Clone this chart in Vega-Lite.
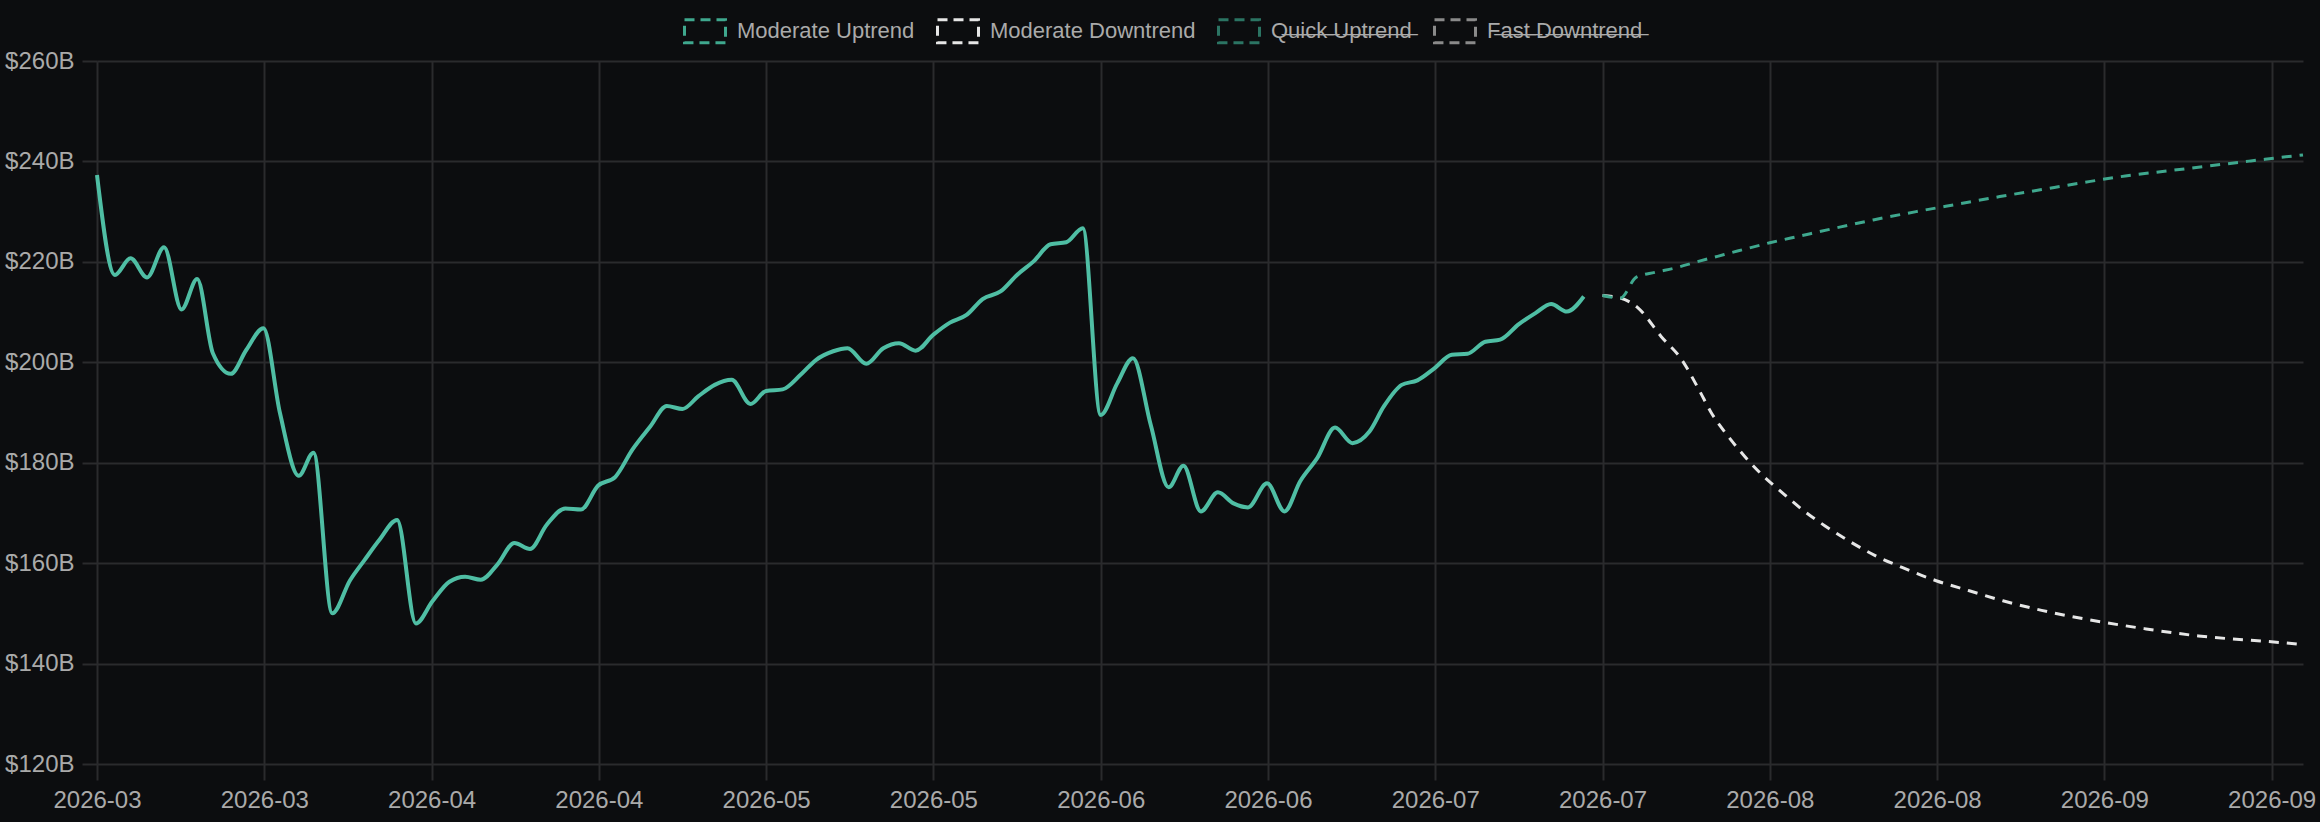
{
  "$schema": "https://vega.github.io/schema/vega-lite/v6.json",
  "description": "Market cap history with moderate up/down trend projections.",
  "autosize": {"type": "none"},
  "padding": {"left": 97, "top": 61, "right": 17, "bottom": 58},
  "width": 2206,
  "height": 703,
  "background": "#0c0d0f",
  "config": {
    "view": {"stroke": null},
    "font": "Liberation Sans, Helvetica, Arial, sans-serif",
    "axis": {
      "labelColor": "#aaaaaa",
      "labelFontSize": 24,
      "labelFont": "Liberation Sans, Helvetica, Arial, sans-serif",
      "gridColor": "#2a2b2d",
      "gridWidth": 2,
      "tickColor": "#2a2b2d",
      "tickWidth": 2,
      "domain": false,
      "title": null
    }
  },
  "layer": [
    {
      "data": {
        "values": [
          {"date": "2026-03-01T00:00", "value": 237.3},
          {"date": "2026-03-02T17:00", "value": 217.4},
          {"date": "2026-03-04T05:00", "value": 220.7},
          {"date": "2026-03-05T19:00", "value": 216.9},
          {"date": "2026-03-07T10:00", "value": 222.9},
          {"date": "2026-03-09T02:00", "value": 210.5},
          {"date": "2026-03-10T14:00", "value": 216.6},
          {"date": "2026-03-12T02:00", "value": 201.8},
          {"date": "2026-03-13T19:00", "value": 197.7},
          {"date": "2026-03-15T07:00", "value": 202.5},
          {"date": "2026-03-16T22:00", "value": 206.8},
          {"date": "2026-03-18T12:00", "value": 189.9},
          {"date": "2026-03-20T07:00", "value": 177.4},
          {"date": "2026-03-21T17:00", "value": 182.0},
          {"date": "2026-03-23T12:00", "value": 150.0},
          {"date": "2026-03-25T05:00", "value": 156.6},
          {"date": "2026-03-26T14:00", "value": 160.6},
          {"date": "2026-03-28T00:00", "value": 164.6},
          {"date": "2026-03-29T17:00", "value": 168.6},
          {"date": "2026-03-31T12:00", "value": 148.0},
          {"date": "2026-04-02T02:00", "value": 152.4},
          {"date": "2026-04-03T17:00", "value": 156.3},
          {"date": "2026-04-05T05:00", "value": 157.3},
          {"date": "2026-04-06T17:00", "value": 156.7},
          {"date": "2026-04-08T07:00", "value": 159.7},
          {"date": "2026-04-09T22:00", "value": 164.0},
          {"date": "2026-04-11T10:00", "value": 162.8},
          {"date": "2026-04-13T00:00", "value": 167.6},
          {"date": "2026-04-14T19:00", "value": 170.9},
          {"date": "2026-04-16T07:00", "value": 170.7},
          {"date": "2026-04-17T22:00", "value": 175.4},
          {"date": "2026-04-19T14:00", "value": 177.2},
          {"date": "2026-04-21T05:00", "value": 182.6},
          {"date": "2026-04-22T22:00", "value": 187.2},
          {"date": "2026-04-24T12:00", "value": 191.3},
          {"date": "2026-04-26T00:00", "value": 190.7},
          {"date": "2026-04-27T12:00", "value": 193.2},
          {"date": "2026-04-29T02:00", "value": 195.5},
          {"date": "2026-04-30T17:00", "value": 196.5},
          {"date": "2026-05-02T12:00", "value": 191.7},
          {"date": "2026-05-04T00:00", "value": 194.3},
          {"date": "2026-05-05T14:00", "value": 194.6},
          {"date": "2026-05-07T07:00", "value": 197.5},
          {"date": "2026-05-08T19:00", "value": 200.5},
          {"date": "2026-05-10T10:00", "value": 202.2},
          {"date": "2026-05-11T19:00", "value": 202.8},
          {"date": "2026-05-13T14:00", "value": 199.7},
          {"date": "2026-05-15T05:00", "value": 202.8},
          {"date": "2026-05-16T17:00", "value": 203.8},
          {"date": "2026-05-18T07:00", "value": 202.3},
          {"date": "2026-05-20T00:00", "value": 205.5},
          {"date": "2026-05-21T14:00", "value": 207.9},
          {"date": "2026-05-23T05:00", "value": 209.5},
          {"date": "2026-05-24T17:00", "value": 212.6},
          {"date": "2026-05-26T10:00", "value": 214.1},
          {"date": "2026-05-28T00:00", "value": 217.4},
          {"date": "2026-05-29T14:00", "value": 220.1},
          {"date": "2026-05-31T05:00", "value": 223.5},
          {"date": "2026-06-01T17:00", "value": 223.9},
          {"date": "2026-06-03T07:00", "value": 226.7},
          {"date": "2026-06-05T00:00", "value": 189.5},
          {"date": "2026-06-06T14:00", "value": 195.8},
          {"date": "2026-06-08T02:00", "value": 200.8},
          {"date": "2026-06-09T19:00", "value": 187.5},
          {"date": "2026-06-11T12:00", "value": 175.1},
          {"date": "2026-06-12T22:00", "value": 179.4},
          {"date": "2026-06-14T14:00", "value": 170.3},
          {"date": "2026-06-16T05:00", "value": 174.1},
          {"date": "2026-06-17T17:00", "value": 171.9},
          {"date": "2026-06-19T02:00", "value": 171.1},
          {"date": "2026-06-20T22:00", "value": 175.9},
          {"date": "2026-06-22T14:00", "value": 170.3},
          {"date": "2026-06-24T02:00", "value": 176.3},
          {"date": "2026-06-25T17:00", "value": 180.9},
          {"date": "2026-06-27T10:00", "value": 187.0},
          {"date": "2026-06-29T02:00", "value": 183.9},
          {"date": "2026-06-30T17:00", "value": 186.2},
          {"date": "2026-07-02T02:00", "value": 191.2},
          {"date": "2026-07-03T19:00", "value": 195.5},
          {"date": "2026-07-05T07:00", "value": 196.4},
          {"date": "2026-07-06T22:00", "value": 198.8},
          {"date": "2026-07-08T14:00", "value": 201.5},
          {"date": "2026-07-10T02:00", "value": 201.7},
          {"date": "2026-07-11T19:00", "value": 204.1},
          {"date": "2026-07-13T05:00", "value": 204.5},
          {"date": "2026-07-15T00:00", "value": 207.6},
          {"date": "2026-07-16T14:00", "value": 209.8},
          {"date": "2026-07-18T02:00", "value": 211.6},
          {"date": "2026-07-19T14:00", "value": 210.1},
          {"date": "2026-07-21T05:00", "value": 213.1}
        ]
      },
      "mark": {"type": "line", "color": "#4fbea4", "strokeWidth": 4, "interpolate": "monotone"},
      "encoding": {
        "x": {
          "field": "date",
          "type": "temporal",
          "scale": {"domain": [{"year": 2026, "month": 3, "date": 1}, {"year": 2026, "month": 9, "date": 28}], "nice": false},
          "axis": {
            "format": "%Y-%m",
            "values": [
              {"year": 2026, "month": 3, "date": 1},
              {"year": 2026, "month": 3, "date": 17},
              {"year": 2026, "month": 4, "date": 2},
              {"year": 2026, "month": 4, "date": 18},
              {"year": 2026, "month": 5, "date": 4},
              {"year": 2026, "month": 5, "date": 20},
              {"year": 2026, "month": 6, "date": 5},
              {"year": 2026, "month": 6, "date": 21},
              {"year": 2026, "month": 7, "date": 7},
              {"year": 2026, "month": 7, "date": 23},
              {"year": 2026, "month": 8, "date": 8},
              {"year": 2026, "month": 8, "date": 24},
              {"year": 2026, "month": 9, "date": 9},
              {"year": 2026, "month": 9, "date": 25}
            ],
            "tickSize": 16,
            "labelPadding": 8,
            "labelFlush": false,
            "labelOverlap": false
          }
        },
        "y": {
          "field": "value",
          "type": "quantitative",
          "scale": {"domain": [120, 260], "nice": false, "zero": false},
          "axis": {
            "values": [120, 140, 160, 180, 200, 220, 240, 260],
            "labelExpr": "'$' + datum.value + 'B'",
            "tickSize": 15,
            "labelPadding": 8
          }
        }
      }
    },
    {
      "data": {
        "values": [
          {"series": "Moderate Downtrend", "date": "2026-07-23T00:00", "value": 213.3},
          {"series": "Moderate Downtrend", "date": "2026-07-24T17:00", "value": 212.8},
          {"series": "Moderate Downtrend", "date": "2026-07-26T10:00", "value": 210.8},
          {"series": "Moderate Downtrend", "date": "2026-07-28T14:00", "value": 205.2},
          {"series": "Moderate Downtrend", "date": "2026-07-30T14:00", "value": 200.5},
          {"series": "Moderate Downtrend", "date": "2026-08-01T05:00", "value": 194.6},
          {"series": "Moderate Downtrend", "date": "2026-08-02T10:00", "value": 189.9},
          {"series": "Moderate Downtrend", "date": "2026-08-04T00:00", "value": 185.3},
          {"series": "Moderate Downtrend", "date": "2026-08-05T14:00", "value": 181.3},
          {"series": "Moderate Downtrend", "date": "2026-08-07T05:00", "value": 177.7},
          {"series": "Moderate Downtrend", "date": "2026-08-09T05:00", "value": 174.0},
          {"series": "Moderate Downtrend", "date": "2026-08-11T02:00", "value": 170.7},
          {"series": "Moderate Downtrend", "date": "2026-08-13T07:00", "value": 167.4},
          {"series": "Moderate Downtrend", "date": "2026-08-15T14:00", "value": 164.4},
          {"series": "Moderate Downtrend", "date": "2026-08-18T02:00", "value": 161.5},
          {"series": "Moderate Downtrend", "date": "2026-08-20T17:00", "value": 159.1},
          {"series": "Moderate Downtrend", "date": "2026-08-23T22:00", "value": 156.5},
          {"series": "Moderate Downtrend", "date": "2026-08-27T02:00", "value": 154.5},
          {"series": "Moderate Downtrend", "date": "2026-08-30T07:00", "value": 152.5},
          {"series": "Moderate Downtrend", "date": "2026-09-03T00:00", "value": 150.6},
          {"series": "Moderate Downtrend", "date": "2026-09-08T17:00", "value": 148.3},
          {"series": "Moderate Downtrend", "date": "2026-09-13T00:00", "value": 146.9},
          {"series": "Moderate Downtrend", "date": "2026-09-18T00:00", "value": 145.5},
          {"series": "Moderate Downtrend", "date": "2026-09-24T14:00", "value": 144.4},
          {"series": "Moderate Downtrend", "date": "2026-09-28T00:00", "value": 143.8},
          {"series": "Moderate Uptrend", "date": "2026-07-23T00:00", "value": 213.3},
          {"series": "Moderate Uptrend", "date": "2026-07-24T17:00", "value": 212.8},
          {"series": "Moderate Uptrend", "date": "2026-07-26T05:00", "value": 216.9},
          {"series": "Moderate Uptrend", "date": "2026-07-28T00:00", "value": 217.9},
          {"series": "Moderate Uptrend", "date": "2026-07-30T00:00", "value": 218.8},
          {"series": "Moderate Uptrend", "date": "2026-08-01T00:00", "value": 220.0},
          {"series": "Moderate Uptrend", "date": "2026-08-03T00:00", "value": 221.1},
          {"series": "Moderate Uptrend", "date": "2026-08-05T00:00", "value": 222.2},
          {"series": "Moderate Uptrend", "date": "2026-08-08T00:00", "value": 223.8},
          {"series": "Moderate Uptrend", "date": "2026-08-11T00:00", "value": 225.2},
          {"series": "Moderate Uptrend", "date": "2026-08-14T00:00", "value": 226.6},
          {"series": "Moderate Uptrend", "date": "2026-08-18T00:00", "value": 228.4},
          {"series": "Moderate Uptrend", "date": "2026-08-22T00:00", "value": 230.0},
          {"series": "Moderate Uptrend", "date": "2026-08-26T00:00", "value": 231.5},
          {"series": "Moderate Uptrend", "date": "2026-08-30T00:00", "value": 233.0},
          {"series": "Moderate Uptrend", "date": "2026-09-03T00:00", "value": 234.4},
          {"series": "Moderate Uptrend", "date": "2026-09-07T00:00", "value": 235.8},
          {"series": "Moderate Uptrend", "date": "2026-09-11T00:00", "value": 237.1},
          {"series": "Moderate Uptrend", "date": "2026-09-15T00:00", "value": 238.1},
          {"series": "Moderate Uptrend", "date": "2026-09-19T00:00", "value": 239.1},
          {"series": "Moderate Uptrend", "date": "2026-09-23T00:00", "value": 240.1},
          {"series": "Moderate Uptrend", "date": "2026-09-28T00:00", "value": 241.3}
        ]
      },
      "mark": {"type": "line", "strokeWidth": 3, "strokeDash": [10, 8], "interpolate": "monotone"},
      "encoding": {
        "x": {"field": "date", "type": "temporal"},
        "y": {"field": "value", "type": "quantitative"},
        "color": {
          "field": "series",
          "type": "nominal",
          "scale": {
            "domain": ["Moderate Uptrend", "Moderate Downtrend", "Quick Uptrend", "Fast Downtrend"],
            "range": ["#3fa88e", "#e6e6e6", "#2b7463", "#8a8a8a"]
          },
          "legend": {
            "orient": "none",
            "legendX": 586,
            "legendY": -52,
            "direction": "horizontal",
            "title": null,
            "labelFont": "Liberation Sans, Helvetica, Arial, sans-serif",
            "labelFontSize": 22,
            "labelColor": "#aaaaaa",
            "labelLimit": 0,
            "labelOffset": 10,
            "columnPadding": 16,
            "symbolType": "M-1,-0.56H1V0.56H-1Z",
            "symbolSize": 1681,
            "symbolStrokeWidth": 3,
            "symbolDash": [10, 6],
            "symbolFillColor": "transparent",
            "labelExpr": "datum.label == 'Quick Uptrend' ? 'Q\u0336u\u0336i\u0336c\u0336k\u0336 \u0336U\u0336p\u0336t\u0336r\u0336e\u0336n\u0336d\u0336' : datum.label == 'Fast Downtrend' ? 'F\u0336a\u0336s\u0336t\u0336 \u0336D\u0336o\u0336w\u0336n\u0336t\u0336r\u0336e\u0336n\u0336d\u0336' : datum.label"
          }
        }
      }
    }
  ]
}
